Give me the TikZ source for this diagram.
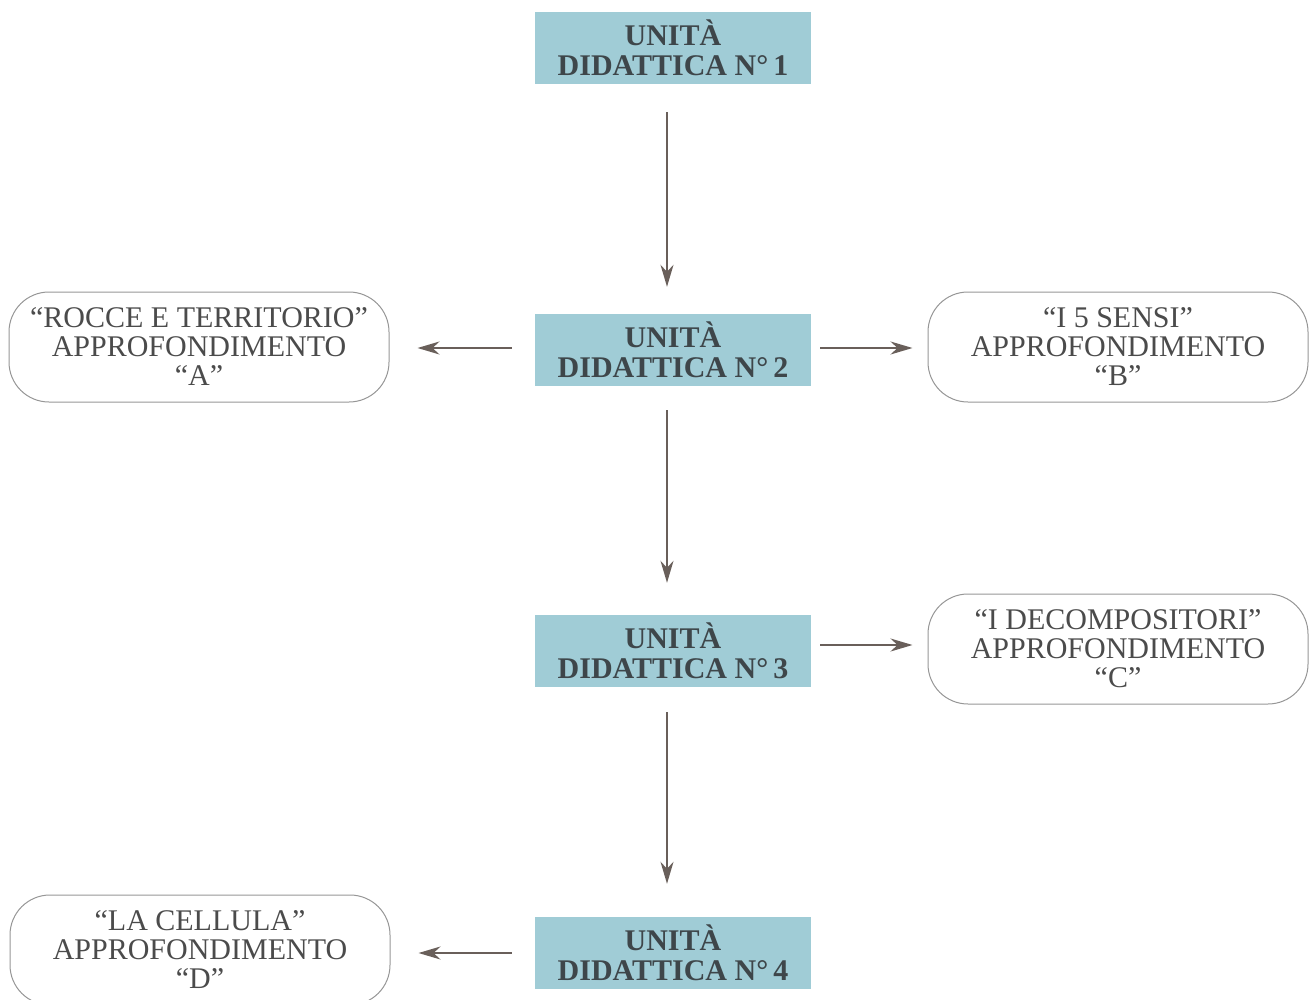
\documentclass[tikz,border=0pt]{standalone}
\usepackage{fontspec}
\setmainfont{Liberation Serif}
\usetikzlibrary{arrows.meta}
\definecolor{unitblue}{RGB}{160,204,214}
\definecolor{txtdark}{RGB}{62,70,74}
\definecolor{txtgray}{RGB}{75,75,75}
\definecolor{arrowcol}{RGB}{105,95,90}
\definecolor{bordergray}{RGB}{150,150,150}
\tikzset{
  unit/.style={fill=unitblue, draw=none, minimum width=276pt, minimum height=72pt,
    inner sep=0pt, align=center, text=txtdark,
    font=\fontsize{30}{30}\selectfont\bfseries},
  deep/.style={draw=bordergray, line width=1pt, rounded corners=40pt, minimum width=380pt,
    minimum height=110pt, inner sep=0pt, align=center, text=txtgray,
    font=\fontsize{30}{29}\selectfont},
  conn/.style={draw=arrowcol, line width=1.8pt, -{Stealth[length=22pt,width=13pt,inset=7pt]}}
}
\begin{document}
\begin{tikzpicture}[x=1pt,y=-1pt]
\useasboundingbox (0,0) rectangle (1311,1000);
\node[unit] (u1) at (673,48) {UNITÀ\\DIDATTICA N\textdegree\,1};
\node[unit] (u2) at (673,350) {UNITÀ\\DIDATTICA N\textdegree\,2};
\node[unit] (u3) at (673,651) {UNITÀ\\DIDATTICA N\textdegree\,3};
\node[unit] (u4) at (673,953) {UNITÀ\\DIDATTICA N\textdegree\,4};
\node[deep] (a) at (199,347) {“ROCCE E TERRITORIO”\\APPROFONDIMENTO\\“A”};
\node[deep] (b) at (1118,347) {“I 5 SENSI”\\APPROFONDIMENTO\\“B”};
\node[deep] (c) at (1118,649) {“I DECOMPOSITORI”\\APPROFONDIMENTO\\“C”};
\node[deep] (d) at (200,950) {“LA CELLULA”\\APPROFONDIMENTO\\“D”};
\draw[conn, shorten <=28pt, shorten >=27pt] ([xshift=-6pt]u1.south) -- ([xshift=-6pt]u2.north);
\draw[conn, shorten <=24pt, shorten >=32pt] ([xshift=-6pt]u2.south) -- ([xshift=-6pt]u3.north);
\draw[conn, shorten <=25pt, shorten >=33pt] ([xshift=-6pt]u3.south) -- ([xshift=-6pt]u4.north);
\draw[conn, shorten <=23pt, shorten >=28pt] ([yshift=2pt]u2.west) -- ([yshift=2pt]u2.west -| a.east);
\draw[conn, shorten <=9pt, shorten >=15pt] ([yshift=2pt]u2.east) -- ([yshift=2pt]u2.east -| b.west);
\draw[conn, shorten <=9pt, shorten >=15pt] ([yshift=6pt]u3.east) -- ([yshift=6pt]u3.east -| c.west);
\draw[conn, shorten <=23pt, shorten >=28pt] (u4.west) -- (u4.west -| d.east);
\end{tikzpicture}
\end{document}
